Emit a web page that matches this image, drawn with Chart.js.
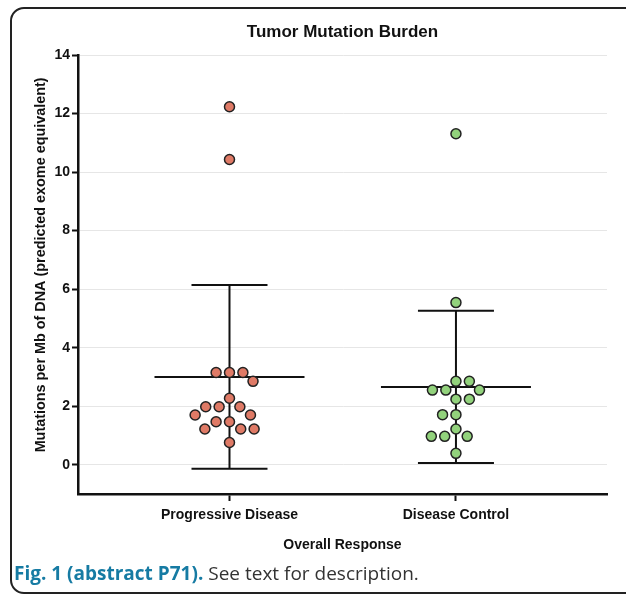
<!DOCTYPE html>
<html><head><meta charset="utf-8">
<script src="https://cdn.jsdelivr.net/npm/chart.js@4/dist/chart.umd.min.js"></script>
<style>
html,body{margin:0;padding:0;background:#fff;overflow:hidden;}
#clip{position:absolute;left:0;top:0;width:626px;height:594px;overflow:hidden;}
#frame{position:absolute;left:10px;top:7px;width:760px;height:587px;border:2px solid #222;border-radius:14px;box-sizing:border-box;}
#wrap{position:absolute;left:0;top:0;width:626px;height:594px;}
#caption{position:absolute;left:14px;top:561px;font-family:'Open Sans',sans-serif;font-size:19px;color:#333;white-space:nowrap;line-height:24px;}
#caption b{color:#167ba3;font-weight:700;}
</style></head><body>
<div id="clip"><div id="frame"></div></div>
<div id="wrap"><canvas id="c" width="626" height="594"></canvas></div>
<div id="caption"><b>Fig. 1 (abstract P71).</b> See text for description.</div>
<script>
// ---- data ----
const categories = ['Progressive Disease', 'Disease Control'];
const progressiveValues = [12.23, 10.43, 3.15, 3.15, 3.15, 2.85, 2.27, 1.98, 1.98, 1.98, 1.70, 1.70, 1.47, 1.47, 1.22, 1.22, 1.22, 0.76];
const controlValues = [11.31, 5.54, 2.85, 2.85, 2.55, 2.55, 2.55, 2.24, 2.24, 1.71, 1.71, 1.22, 0.97, 0.97, 0.97, 0.39];
const groupMeans = [3.00, 2.66];
const groupSDs = [3.14, 2.60];
const yTickValues = [0, 2, 4, 6, 8, 10, 12, 14];
const chartTitle = 'Tumor Mutation Burden';
const yTitle = 'Mutations per Mb of DNA (predicted exome equivalent)';
const xTitle = 'Overall Response';

// ---- layout / style ----
Chart.defaults.font.family = "'Liberation Sans', Arial, Helvetica, sans-serif";
const W = 626, H = 594;
const AREA = {left: 78, right: 607, top: 55, bottom: 494};
const X_MIN = -0.669, X_MAX = 1.667, Y_MIN = -1, Y_MAX = 14;
const PX_PER_X = (AREA.right - AREA.left) / (X_MAX - X_MIN);
const PX_PER_Y = (AREA.bottom - AREA.top) / (Y_MAX - Y_MIN);
const DOT = 13.4; // swarm spacing in px

function swarm(values, center) {
  const placed = [];
  const xs = new Array(values.length);
  const order = values.map((v, i) => i).sort((a, b) => values[b] - values[a]);
  for (const i of order) {
    const py = values[i] * PX_PER_Y;
    const cands = [0];
    for (const p of placed) {
      const dy = Math.abs(p.y - py);
      if (dy < DOT) { const dx = Math.sqrt(DOT * DOT - dy * dy); cands.push(p.x + dx, p.x - dx); }
    }
    const ok = cands.filter(c => placed.every(p => (p.x - c) ** 2 + (p.y - py) ** 2 >= DOT * DOT - 0.01));
    const bias = placed.reduce((s, p) => s + p.x, 0);
    ok.sort((a, b) => {
      const d = Math.round((Math.abs(a) - Math.abs(b)) * 100);
      if (d !== 0) return d;
      return bias > 0 ? a - b : b - a;
    });
    xs[i] = ok[0];
    placed.push({x: ok[0], y: py});
  }
  return values.map((v, i) => ({x: center + xs[i] / PX_PER_X, y: v}));
}

const MEAN_HALF = 75 / PX_PER_X, CAP_HALF = 38 / PX_PER_X;
const barData = [];
groupMeans.forEach((m, i) => {
  const s = groupSDs[i];
  barData.push({x: i - MEAN_HALF, y: m}, {x: i + MEAN_HALF, y: m}, {x: i, y: null});
  barData.push({x: i, y: m - s}, {x: i, y: m + s}, {x: i, y: null});
  barData.push({x: i - CAP_HALF, y: m + s}, {x: i + CAP_HALF, y: m + s}, {x: i, y: null});
  barData.push({x: i - CAP_HALF, y: m - s}, {x: i + CAP_HALF, y: m - s}, {x: i, y: null});
});

const yTitlePlugin = {
  id: 'yTitle',
  afterDraw(chart) {
    const ctx = chart.ctx;
    const ys = chart.scales.y;
    const cy = (ys.getPixelForValue(0) + ys.getPixelForValue(14)) / 2 + 5;
    ctx.save();
    ctx.translate(41, cy);
    ctx.rotate(-Math.PI / 2);
    ctx.font = "bold 14.4px 'Liberation Sans', Arial, sans-serif";
    ctx.fillStyle = '#111';
    ctx.textAlign = 'center';
    ctx.textBaseline = 'middle';
    ctx.fillText(yTitle, 0, 0);
    ctx.restore();
  }
};

new Chart(document.getElementById('c'), {
  type: 'scatter',
  data: {
    datasets: [
      {label: 'Mean ± SD', data: barData, showLine: true, spanGaps: false, pointRadius: 0, borderColor: '#111', borderWidth: 2, order: 2},
      {label: categories[0], data: swarm(progressiveValues, 0), pointRadius: 5, pointBackgroundColor: '#df7a66', pointBorderColor: '#222', pointBorderWidth: 1.5, order: 1},
      {label: categories[1], data: swarm(controlValues, 1), pointRadius: 5, pointBackgroundColor: '#92d27c', pointBorderColor: '#222', pointBorderWidth: 1.5, order: 1}
    ]
  },
  options: {
    responsive: false, animation: false, devicePixelRatio: 1,
    layout: {padding: {left: 0, right: W - AREA.right, top: 0, bottom: H - AREA.bottom - 60}},
    plugins: {
      legend: {display: false}, tooltip: {enabled: false},
      title: {display: true, text: chartTitle, fullSize: false, color: '#111',
        font: {size: 17, weight: 'bold'}, padding: {top: 22, bottom: 12.6}}
    },
    scales: {
      x: {
        type: 'linear', min: X_MIN, max: X_MAX,
        afterBuildTicks(s) { s.ticks = categories.map((c, i) => ({value: i})); },
        afterFit(s) { s.height = 60; },
        ticks: {callback: v => categories[v] ?? '', color: '#111', font: {size: 14, weight: 'bold'}, padding: 6, maxRotation: 0, autoSkip: false},
        grid: {drawOnChartArea: false, drawTicks: true, tickLength: 7, tickColor: '#111', tickWidth: 2},
        border: {display: true, color: '#111', width: 2.5},
        title: {display: true, text: xTitle, color: '#111', font: {size: 14, weight: 'bold'}, padding: 0}
      },
      y: {
        type: 'linear', min: Y_MIN, max: Y_MAX,
        afterBuildTicks(s) { s.ticks = yTickValues.map(v => ({value: v})); },
        afterFit(s) { s.width = AREA.left; },
        ticks: {color: '#111', font: {size: 14, weight: 'bold'}, padding: 2},
        grid: {color: '#e6e6e6', lineWidth: 1, drawTicks: true, tickLength: 6, tickColor: '#111', tickWidth: 2},
        border: {display: true, color: '#111', width: 2.5}
      }
    }
  },
  plugins: [yTitlePlugin]
});
</script>
</body></html>
